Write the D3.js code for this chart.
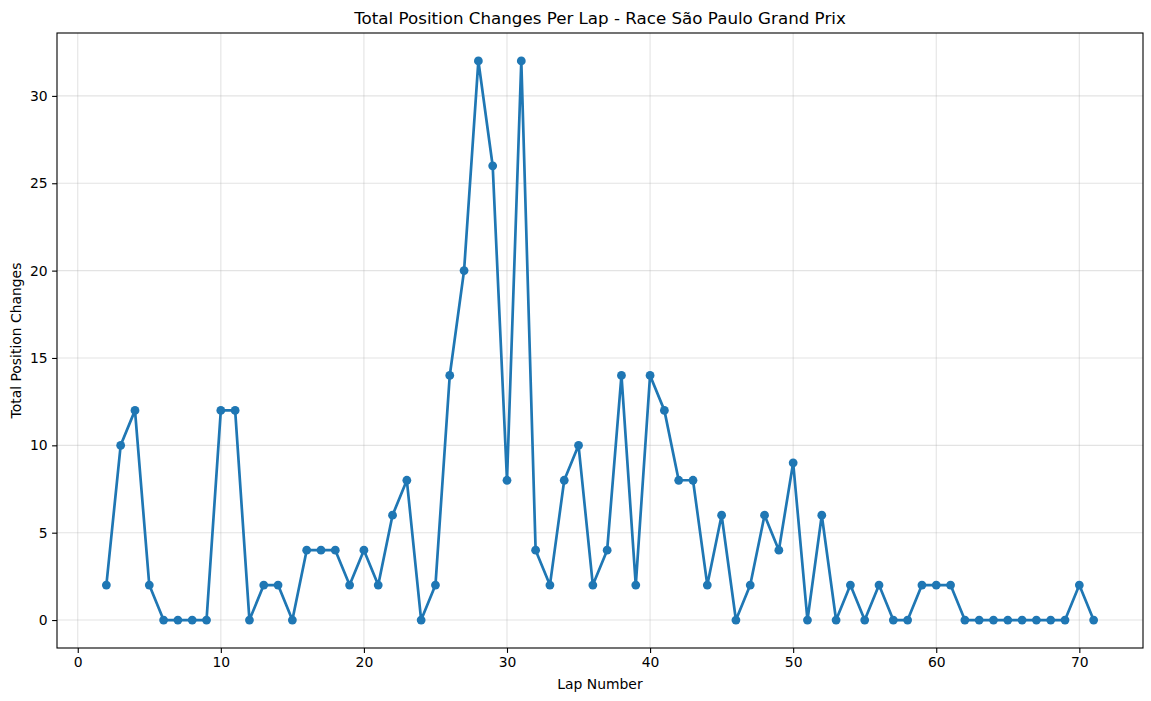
<!DOCTYPE html>
<html>
<head>
<meta charset="utf-8">
<script src="https://cdn.jsdelivr.net/npm/d3@7"></script>
<style>
  html, body { margin: 0; padding: 0; background: #fff; }
  svg { display: block; font-family: 'DejaVu Sans', sans-serif; }
</style>
</head>
<body>
<div id="chart"></div>
<script>
// lap numbers and total position changes per lap
const laps = d3.range(2, 72);
const changes = [
  2, 10, 12, 2, 0, 0, 0, 0, 12, 12,
  0, 2, 2, 0, 4, 4, 4, 2, 4, 2,
  6, 8, 0, 2, 14, 20, 32, 26, 8, 32,
  4, 2, 8, 10, 2, 4, 14, 2, 14, 12,
  8, 8, 2, 6, 0, 2, 6, 4, 9, 0,
  6, 0, 2, 0, 2, 0, 0, 2, 2, 2,
  0, 0, 0, 0, 0, 0, 0, 0, 2, 0
];
const xTicks = [0, 10, 20, 30, 40, 50, 60, 70];
const yTicks = [0, 5, 10, 15, 20, 25, 30];

const W = 1151, H = 701;
const margin = { top: 33, right: 8, bottom: 53, left: 57 };
const blue = '#1f77b4';

const svg = d3.select('#chart').append('svg')
  .attr('width', W).attr('height', H);

const x = d3.scaleLinear().domain([-1.45, 74.45]).range([margin.left, W - margin.right]);
const y = d3.scaleLinear().domain([-1.6, 33.6]).range([H - margin.bottom, margin.top]);

const data = laps.map((l, i) => ({ lap: l, v: changes[i] }));

// grid
const grid = svg.append('g').attr('class', 'grid');
grid.selectAll('line.gx').data(xTicks).enter().append('line')
  .attr('x1', d => x(d)).attr('x2', d => x(d))
  .attr('y1', margin.top).attr('y2', H - margin.bottom)
  .attr('stroke', '#b0b0b0').attr('stroke-opacity', 0.35).attr('stroke-width', 1.1);
grid.selectAll('line.gy').data(yTicks).enter().append('line')
  .attr('x1', margin.left).attr('x2', W - margin.right)
  .attr('y1', d => y(d)).attr('y2', d => y(d))
  .attr('stroke', '#b0b0b0').attr('stroke-opacity', 0.35).attr('stroke-width', 1.1);

// line + markers
const line = d3.line().x(d => x(d.lap)).y(d => y(d.v));
svg.append('path').datum(data)
  .attr('d', line)
  .attr('fill', 'none').attr('stroke', blue)
  .attr('stroke-width', 2.7).attr('stroke-linejoin', 'round');
svg.append('g').selectAll('circle').data(data).enter().append('circle')
  .attr('cx', d => x(d.lap)).attr('cy', d => y(d.v))
  .attr('r', 4.4).attr('fill', blue);

// axes
const xAxis = svg.append('g')
  .attr('transform', `translate(0,${H - margin.bottom})`)
  .call(d3.axisBottom(x).tickValues(xTicks).tickSize(4.9).tickPadding(4.5));
const yAxis = svg.append('g')
  .attr('transform', `translate(${margin.left},0)`)
  .call(d3.axisLeft(y).tickValues(yTicks).tickSize(4.9).tickPadding(4.5));
[xAxis, yAxis].forEach(a => {
  a.select('.domain').remove();
  a.selectAll('text').attr('font-size', 13.9).attr('fill', '#000')
    .attr('font-family', "'DejaVu Sans', sans-serif");
  a.selectAll('line').attr('stroke', '#000').attr('stroke-width', 1.1);
});

// frame
svg.append('rect')
  .attr('x', margin.left).attr('y', margin.top)
  .attr('width', W - margin.left - margin.right)
  .attr('height', H - margin.top - margin.bottom)
  .attr('fill', 'none').attr('stroke', '#000').attr('stroke-width', 1.1);

// labels
svg.append('text')
  .attr('x', (margin.left + W - margin.right) / 2).attr('y', 24)
  .attr('text-anchor', 'middle').attr('font-size', 16.7)
  .text('Total Position Changes Per Lap - Race São Paulo Grand Prix');
svg.append('text')
  .attr('x', (margin.left + W - margin.right) / 2).attr('y', 689)
  .attr('text-anchor', 'middle').attr('font-size', 13.9)
  .text('Lap Number');
svg.append('text')
  .attr('transform', `translate(21,${(margin.top + H - margin.bottom) / 2}) rotate(-90)`)
  .attr('text-anchor', 'middle').attr('font-size', 13.9)
  .text('Total Position Changes');
</script>
</body>
</html>
